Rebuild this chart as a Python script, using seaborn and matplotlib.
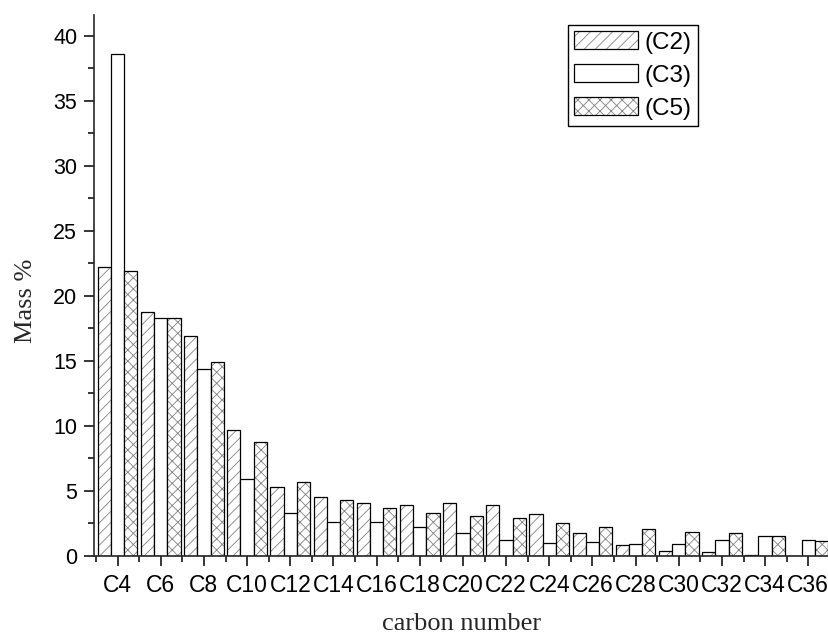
import numpy as np
import pandas as pd
import matplotlib
matplotlib.use("Agg")
import matplotlib.pyplot as plt
import matplotlib.colors as mcolors
from matplotlib.ticker import MultipleLocator, FixedLocator
import seaborn as sns

# carbon number fractions
carbons = ["C4", "C6", "C8", "C10", "C12", "C14", "C16", "C18", "C20",
           "C22", "C24", "C26", "C28", "C30", "C32", "C34", "C36"]
samples = ["(C2)", "(C3)", "(C5)"]

mass_c2 = [22.2, 18.8, 16.9, 9.7, 5.3, 4.5, 4.1, 3.9, 4.1,
           3.9, 3.2, 1.8, 0.85, 0.4, 0.28, 0.1, 0.0]
mass_c3 = [38.6, 18.3, 14.4, 5.95, 3.3, 2.6, 2.6, 2.2, 1.75,
           1.2, 1.03, 1.05, 0.92, 0.95, 1.25, 1.52, 1.23]
mass_c5 = [21.9, 18.3, 14.9, 8.8, 5.7, 4.3, 3.7, 3.3, 3.05,
           2.9, 2.5, 2.25, 2.05, 1.85, 1.74, 1.52, 1.15]

hatches = ["///", "", "xxx"]

df = pd.DataFrame({
    "carbon": carbons * 3,
    "sample": np.repeat(samples, len(carbons)),
    "mass": mass_c2 + mass_c3 + mass_c5,
})

sns.set_style("ticks")
plt.rcParams.update({
    "font.family": ["Liberation Sans", "DejaVu Sans"],
    "hatch.linewidth": 0.6,
    "axes.linewidth": 1.2,
    "xtick.direction": "out",
    "ytick.direction": "out",
    "xtick.color": "black",
    "ytick.color": "black",
    "text.color": "black",
})

fig = plt.figure(figsize=(8.29, 6.36), dpi=100)
ax = fig.add_axes([0.1132, 0.1258, 0.8868, 0.8506])

sns.barplot(
    data=df, x="carbon", y="mass", hue="sample",
    order=carbons, hue_order=samples,
    palette=["white"] * 3, edgecolor="black", linewidth=0.9,
    width=0.92, gap=0, legend=False, ax=ax,
)

# hatch patterns in grey, bar outlines stay black
grey = mcolors.to_rgba("#808080")
for cont, h in zip(ax.containers, hatches):
    for bar in cont:
        bar.set_hatch(h)
        bar._hatch_color = grey

ax.set_xlim(-0.55, 16.48)
ax.set_ylim(0, 41.6)
ax.set_yticks(range(0, 41, 5))
ax.yaxis.set_minor_locator(MultipleLocator(2.5))
ax.xaxis.set_minor_locator(FixedLocator(np.arange(-0.5, 17, 1)))
ax.tick_params(which="major", length=7, width=1.1, labelsize=15.5, pad=5)
ax.tick_params(axis="x", which="major", labelsize=16.5, pad=6)
ax.tick_params(which="minor", length=4, width=1.1)
sns.despine(ax=ax)

ax.set_xlabel("carbon number", family=["Liberation Serif"], fontsize=19)
ax.set_ylabel("Mass %", family=["Liberation Serif"], fontsize=19)
ax.xaxis.label.set_va("baseline")
ax.xaxis.set_label_coords(0.5, -0.136)
ax.yaxis.set_label_coords(-0.077, 0.471)

leg = ax.legend(
    ax.containers, samples,
    loc="upper right", bbox_to_anchor=(0.842, 0.961),
    bbox_transform=fig.transFigure, borderaxespad=0,
    fontsize=17.5, handlelength=2.6, handleheight=0.8,
    handletextpad=0.3, labelspacing=0.42, borderpad=0.25,
    fancybox=False, framealpha=1, edgecolor="black",
)
leg.get_frame().set_linewidth(1.0)

fig.savefig("out.png", dpi=100)
